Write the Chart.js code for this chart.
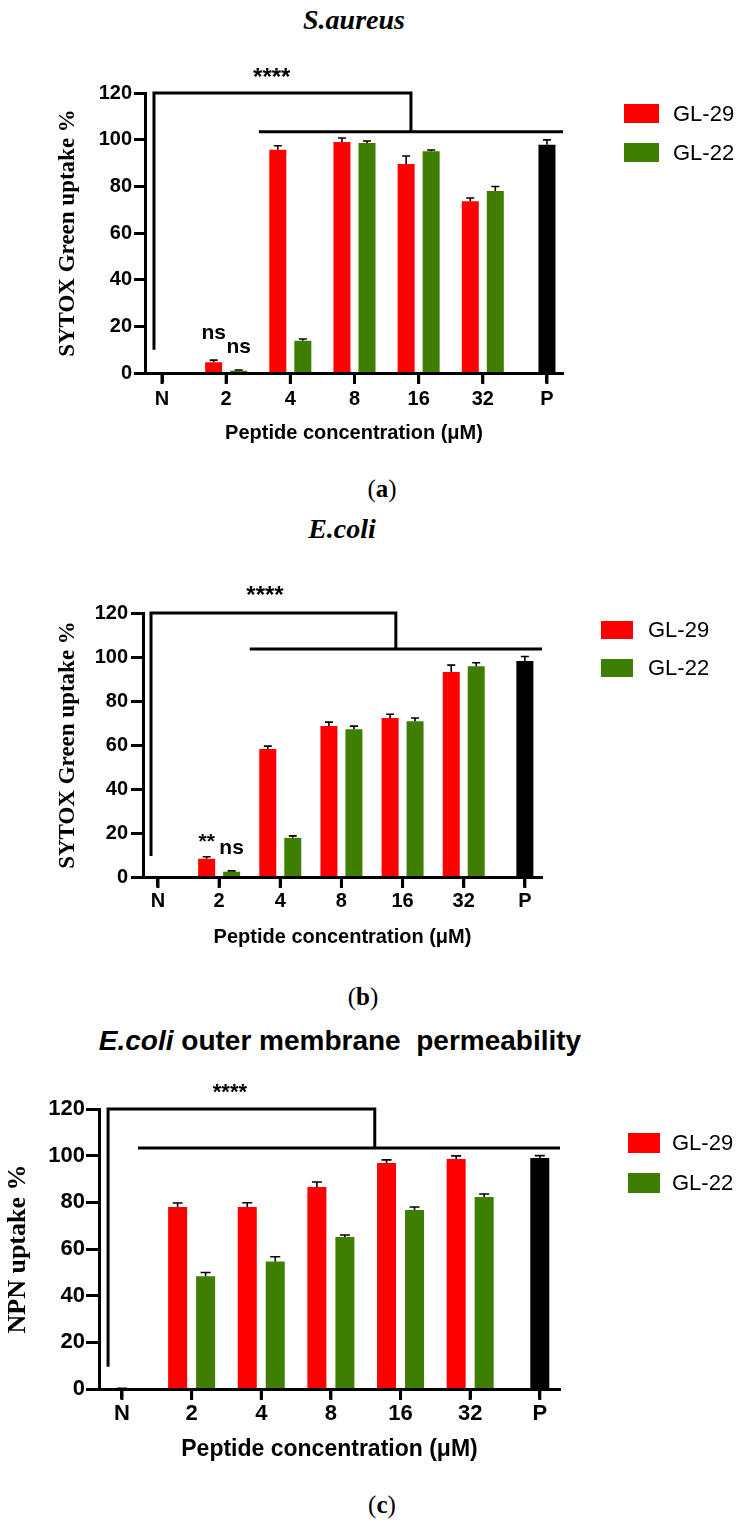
<!DOCTYPE html>
<html>
<head>
<meta charset="utf-8">
<script src="https://cdn.jsdelivr.net/npm/chart.js@4.4.1/dist/chart.umd.min.js"></script>
<style>
  body { margin: 0; width: 756px; height: 1526px; background: #fff; position: relative; overflow: hidden; }
  canvas { position: absolute; left: 0; }
  .lbl { position: absolute; transform: translate(-50%, -50%); white-space: nowrap; color: #000; }
  .serif { font-family: 'Liberation Serif', 'Times New Roman', serif; }
  .sans { font-family: 'Liberation Sans', Arial, sans-serif; }
</style>
</head>
<body>
<div class="lbl serif" style="left:354px; top:20px; font: italic bold 28px 'Liberation Serif', serif;">S.aureus</div>
<div class="lbl serif" style="left:382px; top:489px; font-size:25px;">(<b>a</b>)</div>
<div class="lbl serif" style="left:342px; top:529px; font: italic bold 28px 'Liberation Serif', serif;">E.coli</div>
<div class="lbl serif" style="left:363px; top:997px; font-size:25px;">(<b>b</b>)</div>
<div class="lbl sans" style="left:340px; top:1041px; font-weight:bold; font-size:28px;"><i>E.coli</i> outer membrane&nbsp; permeability</div>
<div class="lbl serif" style="left:382px; top:1505px; font-size:25px;">(<b>c</b>)</div>

<canvas id="chartA"></canvas>
<canvas id="chartB"></canvas>
<canvas id="chartC"></canvas>

<script>
const catLabels = ['N', '2', '4', '8', '16', '32', 'P'];
const yTicks = [0, 20, 40, 60, 80, 100, 120];
const seriesNames = ['GL-29', 'GL-22', 'Control'];
const seriesColors = ['#ff0000', '#3e7e00', '#000000'];

// (a) S.aureus - SYTOX Green uptake %
const saGL29 = [null, 4.6, 95.7, 99.0, 89.6, 73.6, null];
const saGL29Err = [0, 0.9, 1.7, 1.7, 3.4, 1.4, 0];
const saGL22 = [null, 1.0, 13.8, 98.6, 95.0, 78.0, null];
const saGL22Err = [0, 0.3, 0.8, 0.8, 0.6, 1.9, 0];
const saCtrl = [0, null, null, null, null, null, 97.8];
const saCtrlErr = [0, 0, 0, 0, 0, 0, 2.1];

// (b) E.coli - SYTOX Green uptake %
const ecGL29 = [null, 8.3, 58.2, 68.6, 72.3, 93.2, null];
const ecGL29Err = [0, 0.9, 1.3, 1.8, 1.7, 3.1, 0];
const ecGL22 = [null, 2.4, 17.8, 67.2, 70.8, 95.8, null];
const ecGL22Err = [0, 0.4, 0.9, 1.4, 1.5, 1.6, 0];
const ecCtrl = [0, null, null, null, null, null, 98.2];
const ecCtrlErr = [0, 0, 0, 0, 0, 0, 2.0];

// (c) E.coli outer membrane - NPN uptake %
const npnGL29 = [null, 78.0, 78.0, 86.6, 96.9, 98.6, null];
const npnGL29Err = [0, 1.7, 1.8, 2.1, 1.3, 1.3, 0];
const npnGL22 = [null, 48.3, 54.6, 65.1, 76.7, 82.3, null];
const npnGL22Err = [0, 1.6, 2.1, 0.9, 1.3, 1.3, 0];
const npnCtrl = [0, null, null, null, null, null, 99.0];
const npnCtrlErr = [0.3, 0, 0, 0, 0, 0, 1.0];

// significance labels over single bars (y = text baseline, in data units)
const saMarks = [
  { text: 'ns', series: 0, cat: 1, y: 14.5 },
  { text: 'ns', series: 1, cat: 1, y: 8.6 },
];
const ecMarks = [
  { text: '**', series: 0, cat: 1, y: 13 },
  { text: 'ns', series: 1, cat: 1, y: 10.5 },
];

const SANS = "'Liberation Sans', Arial, sans-serif";
const SERIF = "'Liberation Serif', 'Times New Roman', serif";

// page layout of each panel (pixels) - positions only, no data
const panels = [
  {
    id: 'chartA', top: 40, bottom: 455,
    area: { left: 145, top: 93, bottom: 373, right: 563 },
    xMin: -0.265, xMax: 6.25,
    series: [saGL29, saGL22, saCtrl], errors: [saGL29Err, saGL22Err, saCtrlErr],
    yTitle: 'SYTOX Green uptake %', yTitleX: 68,
    fonts: { tick: 20, xTitle: 20, yTitle: 23, star: 24, mark: 21, legend: 22 },
    yTickLen: 11, yTickPad: 2, xTickPad: 4, xTitleY: 433,
    bar: { cat: 0.78, ratio: 0.68, max: 17 }, cap: 8,
    bracket: { left: -0.125, foot: 10, top: 120, drop: 3.88, bar: 103.4, barFrom: 1.51, starsX: 1.71, starsY: 123.4 },
    marks: saMarks,
    legend: { x: 624, y: 104, w: 35, h: 19, step: 39, textX: 673 },
  },
  {
    id: 'chartB', top: 560, bottom: 965,
    area: { left: 143, top: 613, bottom: 877, right: 542 },
    xMin: -0.245, xMax: 6.28,
    series: [ecGL29, ecGL22, ecCtrl], errors: [ecGL29Err, ecGL22Err, ecCtrlErr],
    yTitle: 'SYTOX Green uptake %', yTitleX: 68,
    fonts: { tick: 20, xTitle: 20, yTitle: 23, star: 24, mark: 21, legend: 22 },
    yTickLen: 12, yTickPad: 3, xTickPad: 2, xTitleY: 937,
    bar: { cat: 0.817, ratio: 0.68, max: 17 }, cap: 8,
    bracket: { left: -0.114, foot: 9.5, top: 120, drop: 3.89, bar: 103.6, barFrom: 1.5, starsX: 1.75, starsY: 124.5 },
    marks: ecMarks,
    legend: { x: 601, y: 621, w: 32, h: 18, step: 38, textX: 648 },
  },
  {
    id: 'chartC', top: 1070, bottom: 1475,
    area: { left: 99, top: 1109, bottom: 1389, right: 560 },
    xMin: -0.33, xMax: 6.29,
    series: [npnGL29, npnGL22, npnCtrl], errors: [npnGL29Err, npnGL22Err, npnCtrlErr],
    yTitle: 'NPN uptake %', yTitleX: 18,
    fonts: { tick: 22, xTitle: 23, yTitle: 26, star: 22, mark: 21, legend: 22 },
    yTickLen: 13, yTickPad: 1, xTickPad: 2, xTitleY: 1450,
    bar: { cat: 0.804, ratio: 0.68, max: 19 }, cap: 10,
    bracket: { left: -0.2, foot: 9.5, top: 120, drop: 3.63, bar: 103.3, barFrom: 0.23, starsX: 1.55, starsY: 124.3 },
    marks: [],
    legend: { x: 628, y: 1133, w: 32, h: 20, step: 40, textX: 672 },
  },
];

function panelPlugins(p) {
  const errorBars = {
    id: 'errorBars',
    afterDatasetsDraw(chart) {
      const { ctx } = chart;
      const y = chart.scales.y;
      ctx.save();
      ctx.strokeStyle = '#000';
      ctx.lineWidth = 1.6;
      chart.data.datasets.forEach((ds, i) => {
        chart.getDatasetMeta(i).data.forEach((bar, j) => {
          const v = ds.data[j].y;
          const e = ds.errors[j];
          if (v == null || !e) return;
          const top = y.getPixelForValue(v + e);
          ctx.beginPath();
          ctx.moveTo(bar.x, bar.y);
          ctx.lineTo(bar.x, top);
          ctx.moveTo(bar.x - p.cap / 2, top);
          ctx.lineTo(bar.x + p.cap / 2, top);
          ctx.stroke();
        });
      });
      ctx.restore();
    },
  };

  const sigMarks = {
    id: 'sigMarks',
    afterDraw(chart) {
      const { ctx } = chart;
      const x = chart.scales.x, y = chart.scales.y;
      const px = v => x.getPixelForValue(v), py = v => y.getPixelForValue(v);
      const b = p.bracket;
      const base = py(0);
      ctx.save();
      ctx.strokeStyle = '#000';
      ctx.lineWidth = 3;
      // category tick marks under the x axis
      ctx.beginPath();
      catLabels.forEach((_, i) => {
        ctx.moveTo(px(i), base);
        ctx.lineTo(px(i), base + 11);
      });
      ctx.stroke();
      // significance bracket
      ctx.beginPath();
      ctx.moveTo(px(b.left), py(b.foot));
      ctx.lineTo(px(b.left), py(b.top));
      ctx.lineTo(px(b.drop), py(b.top));
      ctx.lineTo(px(b.drop), py(b.bar));
      ctx.moveTo(px(b.barFrom), py(b.bar));
      ctx.lineTo(x.right, py(b.bar));
      ctx.stroke();
      ctx.fillStyle = '#000';
      ctx.textAlign = 'center';
      ctx.textBaseline = 'alphabetic';
      ctx.font = `bold ${p.fonts.star}px ${SANS}`;
      ctx.fillText('****', px(b.starsX), py(b.starsY));
      ctx.font = `bold ${p.fonts.mark}px ${SANS}`;
      p.marks.forEach(m => {
        const bar = chart.getDatasetMeta(m.series).data[m.cat];
        ctx.fillText(m.text, bar.x, py(m.y));
      });
      ctx.restore();
    },
  };

  const sideLegend = {
    id: 'sideLegend',
    afterDraw(chart) {
      const { ctx } = chart;
      const lg = p.legend;
      ctx.save();
      ctx.font = `${p.fonts.legend}px ${SANS}`;
      ctx.textBaseline = 'middle';
      ctx.textAlign = 'left';
      chart.data.datasets.filter(ds => ds.inLegend).forEach((ds, i) => {
        const top = lg.y - p.top + i * lg.step;
        ctx.fillStyle = ds.backgroundColor;
        ctx.fillRect(lg.x, top, lg.w, lg.h);
        ctx.fillStyle = '#000';
        ctx.fillText(ds.label, lg.textX, top + lg.h / 2 + 1);
      });
      ctx.restore();
    },
  };

  return [errorBars, sigMarks, sideLegend];
}

function buildChart(p) {
  const canvas = document.getElementById(p.id);
  canvas.width = 756;
  canvas.height = p.bottom - p.top;
  canvas.style.top = p.top + 'px';

  const datasets = p.series.map((vals, k) => ({
    label: seriesNames[k],
    data: vals.map((v, i) => ({ x: i, y: v })),
    errors: p.errors[k],
    backgroundColor: seriesColors[k],
    inLegend: k < 2,
  }));

  const yLh = p.fonts.yTitle * 1.2;
  const xLh = p.fonts.xTitle * 1.2;

  new Chart(canvas, {
    type: 'bar',
    data: { datasets },
    options: {
      responsive: false,
      animation: false,
      devicePixelRatio: 1,
      layout: {
        padding: { top: p.area.top - p.top, right: 756 - p.area.right, bottom: 0, left: 0 },
      },
      datasets: {
        bar: {
          skipNull: true,
          categoryPercentage: p.bar.cat,
          barPercentage: p.bar.ratio,
          maxBarThickness: p.bar.max,
          borderWidth: 0,
        },
      },
      plugins: {
        legend: { display: false },
        tooltip: { enabled: false },
      },
      scales: {
        x: {
          type: 'linear',
          bounds: 'data',
          offset: false,
          min: p.xMin,
          max: p.xMax,
          afterBuildTicks: s => { s.ticks = catLabels.map((_, i) => ({ value: i })); },
          afterFit: s => { s.height = p.bottom - p.area.bottom; },
          ticks: {
            callback: v => catLabels[v],
            autoSkip: false,
            maxRotation: 0,
            color: '#000',
            padding: p.xTickPad,
            font: { family: SANS, weight: 'bold', size: p.fonts.tick },
          },
          grid: { offset: false, drawOnChartArea: false, tickLength: 10, tickWidth: 3, tickColor: '#000' },
          border: { color: '#000', width: 3, z: 1 },
          title: {
            display: true,
            text: 'Peptide concentration (μM)',
            color: '#000',
            font: { family: SANS, weight: 'bold', size: p.fonts.xTitle },
            padding: { top: 0, bottom: p.bottom - p.xTitleY - xLh / 2 },
          },
        },
        y: {
          type: 'linear',
          min: 0,
          max: 120,
          afterBuildTicks: s => { s.ticks = yTicks.map(v => ({ value: v })); },
          afterFit: s => { s.width = p.area.left; },
          ticks: {
            color: '#000',
            padding: p.yTickPad,
            font: { family: SANS, weight: 'bold', size: p.fonts.tick },
          },
          grid: { drawOnChartArea: false, tickLength: p.yTickLen, tickWidth: 3, tickColor: '#000' },
          border: { color: '#000', width: 3, z: 1 },
          title: {
            display: true,
            text: p.yTitle,
            color: '#000',
            font: { family: SERIF, weight: 'bold', size: p.fonts.yTitle },
            padding: { top: p.yTitleX - yLh / 2, bottom: 0 },
          },
        },
      },
    },
    plugins: panelPlugins(p),
  });
}

panels.forEach(buildChart);
</script>
</body>
</html>
